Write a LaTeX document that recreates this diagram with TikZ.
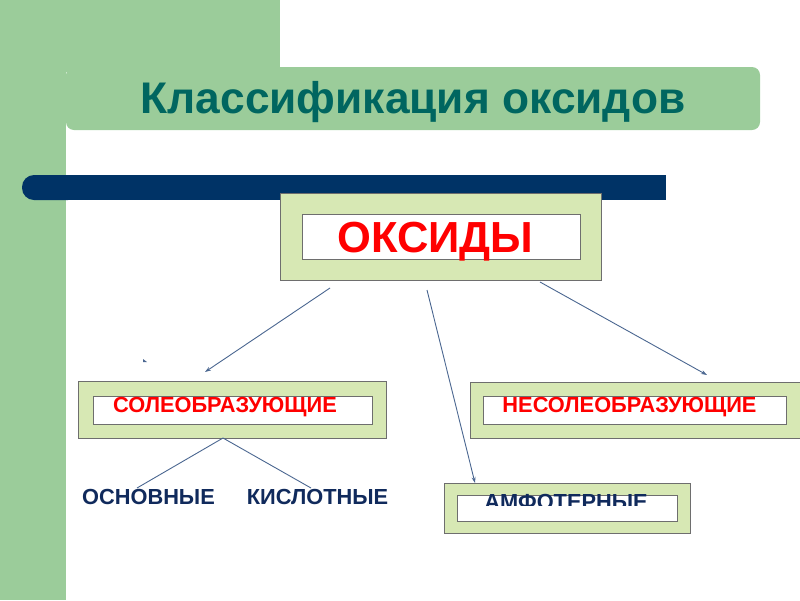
\documentclass[tikz,border=0pt]{standalone}
\usepackage{fontspec}
\setmainfont{Liberation Sans}
\usetikzlibrary{arrows.meta}
\definecolor{sidegreen}{HTML}{9BCC9A}
\definecolor{boxgreen}{HTML}{D7E8B4}
\definecolor{navybar}{HTML}{003366}
\definecolor{titleteal}{HTML}{006660}
\definecolor{darknavy}{HTML}{102A5C}
\definecolor{linecol}{HTML}{4A6690}
\definecolor{edgegrey}{HTML}{6E6E6E}
\tikzset{
  outerbox/.style={draw=edgegrey, line width=1pt, fill=boxgreen, inner sep=0pt},
  innerbox/.style={draw=edgegrey, line width=1pt, fill=white, inner sep=0pt},
  redlabel/.style={text=red, font=\bfseries\fontsize{21.8}{24}\selectfont, anchor=base, inner sep=0pt},
  navylabel/.style={text=darknavy, font=\bfseries\fontsize{21.8}{24}\selectfont, anchor=base, inner sep=0pt},
  conn/.style={draw=linecol, line width=0.9pt},
  arr/.style={conn, -{Stealth[length=6pt,width=4pt]}}
}
\begin{document}
\begin{tikzpicture}[x=1pt,y=-1pt]
\useasboundingbox (0,0) rectangle (800,600);
% background decoration
\fill[sidegreen] (0,0) rectangle (66,600);
\fill[sidegreen] (0,0) rectangle (280,72);
\fill[sidegreen, rounded corners=8pt] (66,67) rectangle (760,130);
\node[anchor=base, text=titleteal, font=\bfseries\fontsize{44.3}{46}\selectfont, inner sep=0pt] (title) at (413,113) {Классификация оксидов};
% navy bar
\fill[navybar, rounded corners=12pt] (22,175) rectangle (80,200);
\fill[navybar] (50,175) rectangle (666,200);
% boxes
\node[outerbox, minimum width=321pt, minimum height=87pt] (oksout) at (440.5,236.5) {};
\node[innerbox, minimum width=278pt, minimum height=45pt] (oksin) at (441,236.5) {};
\node[redlabel, font=\bfseries\fontsize{43.5}{46}\selectfont] (oks) at (435.5,252) {ОКСИДЫ};

\node[outerbox, minimum width=308pt, minimum height=57pt] (solout) at (232,409.5) {};
\node[innerbox, minimum width=279pt, minimum height=28pt] (solin) at (232.5,410) {};
\node[redlabel] (sol) at (225,412) {СОЛЕОБРАЗУЮЩИЕ};

\node[outerbox, minimum width=330pt, minimum height=56pt] (nesout) at (635,410) {};
\node[innerbox, minimum width=303pt, minimum height=28pt] (nesin) at (634.5,410) {};
\node[redlabel] (nes) at (629.5,412) {НЕСОЛЕОБРАЗУЮЩИЕ};

\node[outerbox, minimum width=246pt, minimum height=50pt] (amfout) at (567,508) {};
\node[innerbox, minimum width=220pt, minimum height=26pt] (amfin) at (567,508) {};
\begin{scope}
\clip (450,480) rectangle (690,505);
\node[navylabel] (amf) at (566,509.5) {АМФОТЕРНЫЕ};
\end{scope}

\node[navylabel] (osn) at (148.5,504) {ОСНОВНЫЕ};
\node[navylabel] (kis) at (317.5,504) {КИСЛОТНЫЕ};

% connector end points
\coordinate (a1s) at (330,288);
\coordinate (a1e) at (205,372);
\coordinate (a2s) at (427,290);
\coordinate (a2e) at (475,483);
\coordinate (a3s) at (540,282);
\coordinate (a3e) at (707,375);
\coordinate (b0) at (223,438);
\coordinate (b1) at (137,488);
\coordinate (b2) at (311,488);
\draw[arr] (a1s) -- (a1e);
\draw[arr] (a2s) -- (a2e);
\draw[arr] (a3s) -- (a3e);
\draw[conn] (b0) -- (b1);
\draw[conn] (b0) -- (b2);
% stray marks
\coordinate (m1) at (143,362);
\fill[linecol] (m1) -- ++(0,-3) -- ++(4,3) -- cycle;
\end{tikzpicture}
\end{document}
